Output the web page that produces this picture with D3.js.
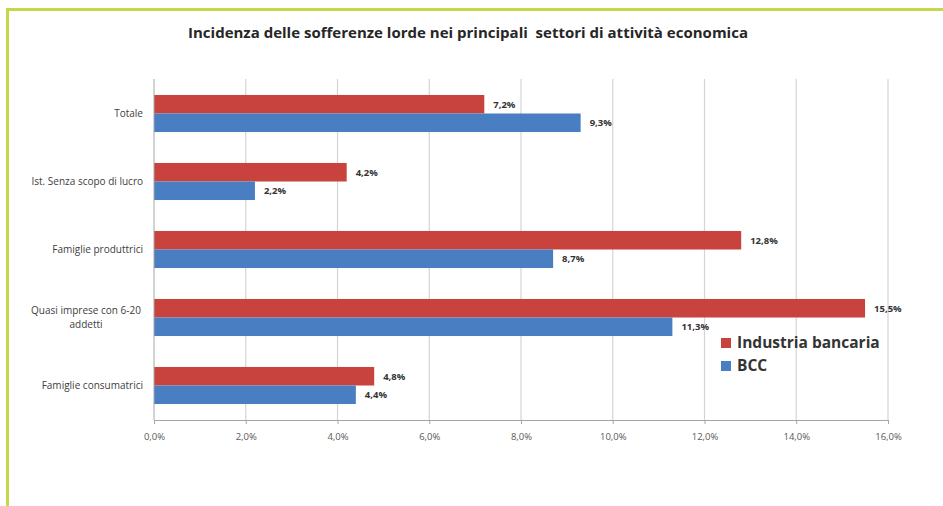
<!DOCTYPE html>
<html>
<head>
<meta charset="utf-8">
<script src="https://cdn.jsdelivr.net/npm/d3@7/dist/d3.min.js"></script>
<style>
  html, body { margin: 0; padding: 0; background: #ffffff; }
  svg { display: block; }
</style>
</head>
<body>
<svg id="chart" width="943" height="506"></svg>
<script>
// Sectors (top to bottom), values in percent
const categories = [
  "Totale",
  "Ist. Senza scopo di lucro",
  "Famiglie produttrici",
  "Quasi imprese con 6-20 addetti",
  "Famiglie consumatrici"
];
const seriesNames = ["Industria bancaria", "BCC"];
const industriaBancaria = [7.2, 4.2, 12.8, 15.5, 4.8];
const bcc = [9.3, 2.2, 8.7, 11.3, 4.4];
const tickValues = [0, 2, 4, 6, 8, 10, 12, 14, 16];
const tickLabels = ["0,0%", "2,0%", "4,0%", "6,0%", "8,0%", "10,0%", "12,0%", "14,0%", "16,0%"];
const title = "Incidenza delle sofferenze lorde nei principali  settori di attività economica";

const colors = { "Industria bancaria": "#c8423e", "BCC": "#4a7ec2" };
const series = [industriaBancaria, bcc];
const font = "'Liberation Sans Narrow', 'Arial Narrow', 'Open Sans', sans-serif";

const svg = d3.select("#chart");

// Outer frame (top and left rules)
svg.append("rect").attr("x", 6).attr("y", 8).attr("width", 937).attr("height", 3).attr("fill", "#c6d84a");
svg.append("rect").attr("x", 6).attr("y", 8).attr("width", 3).attr("height", 498).attr("fill", "#c6d84a");

// Title
svg.append("text")
  .attr("x", 468).attr("y", 38)
  .attr("text-anchor", "middle")
  .attr("font-family", font)
  .attr("font-weight", "bold")
  .attr("font-size", 14.5)
  .attr("fill", "#262626")
  .attr("textLength", 560)
  .attr("lengthAdjust", "spacingAndGlyphs")
  .style("white-space", "pre")
  .text(title);

const x = d3.scaleLinear().domain([0, 16]).range([154, 888]);
const y = d3.scaleBand().domain(categories).range([79.5, 419.5]).paddingInner(0.455).paddingOuter(0.2275);
const ySub = d3.scaleBand().domain(seriesNames).range([0, y.bandwidth()]);

// Vertical gridlines
svg.append("g").selectAll("line").data(tickValues.slice(1)).join("line")
  .attr("x1", d => x(d)).attr("x2", d => x(d))
  .attr("y1", 79).attr("y2", 420)
  .attr("stroke", "#d4d4d4").attr("stroke-width", 1.2);

// Bars and value labels
seriesNames.forEach((name, si) => {
  svg.append("g").selectAll("rect").data(categories).join("rect")
    .attr("x", x(0))
    .attr("y", c => y(c) + ySub(name))
    .attr("width", (c, i) => x(series[si][i]) - x(0))
    .attr("height", ySub.bandwidth())
    .attr("fill", colors[name]);

  svg.append("g").selectAll("text").data(categories).join("text")
    .attr("x", (c, i) => x(series[si][i]) + 9)
    .attr("y", c => y(c) + ySub(name) + ySub.bandwidth() / 2)
    .attr("dy", "0.35em")
    .attr("font-family", font)
    .attr("font-weight", "bold")
    .attr("font-size", 9.5)
    .attr("fill", "#333")
    .text((c, i) => series[si][i].toFixed(1).replace(".", ",") + "%");
});

// Category axis line
svg.append("line").attr("x1", x(0)).attr("x2", x(0)).attr("y1", 79).attr("y2", 420)
  .attr("stroke", "#a6a6a6").attr("stroke-width", 1);

// Value axis
const xAxis = d3.axisBottom(x).tickValues(tickValues)
  .tickFormat((d, i) => tickLabels[i]).tickSize(4).tickPadding(9);
const gx = svg.append("g").attr("transform", "translate(0,420)").call(xAxis);
gx.select(".domain").attr("stroke", "#a6a6a6");
gx.selectAll(".tick line").attr("stroke", "#a6a6a6");
gx.selectAll("text")
  .attr("font-family", font)
  .attr("font-size", 9.5).attr("fill", "#595959");

// Category labels (long one wrapped onto two lines)
const catG = svg.append("g");
categories.forEach(c => {
  const cy = y(c) + y.bandwidth() / 2;
  const lines = c === "Quasi imprese con 6-20 addetti" ? ["Quasi imprese con 6-20", "addetti"] : [c];
  lines.forEach((l, i) => {
    catG.append("text")
      .attr("x", lines.length > 1 ? 86 : 143)
      .attr("y", cy + (i - (lines.length - 1) / 2) * 14)
      .attr("dy", "0.35em")
      .attr("text-anchor", lines.length > 1 ? "middle" : "end")
      .attr("font-family", font)
      .attr("font-size", 10)
      .attr("fill", "#404040")
      .text(l);
  });
});

// Legend
const legend = svg.append("g");
seriesNames.forEach((name, i) => {
  const ly = 343 + i * 23;
  legend.append("rect").attr("x", 721).attr("y", ly - 5).attr("width", 10).attr("height", 10)
    .attr("fill", colors[name]);
  legend.append("text").attr("x", 737).attr("y", ly).attr("dy", "0.35em")
    .attr("font-family", font)
    .attr("font-weight", "bold")
    .attr("font-size", 15.5)
    .attr("fill", "#333")
    .text(name);
});
</script>
</body>
</html>
